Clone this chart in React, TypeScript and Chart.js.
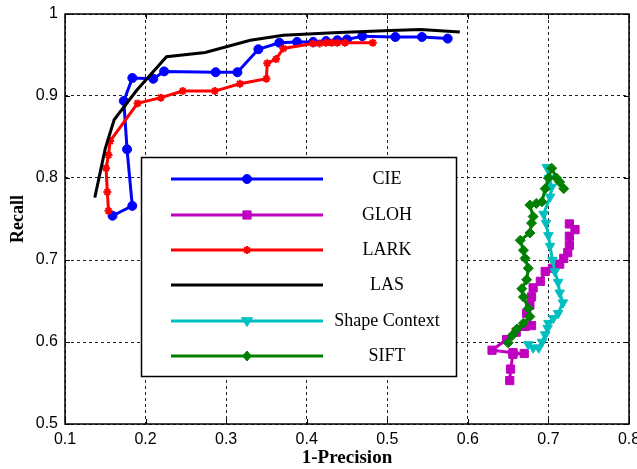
import React, { useEffect, useRef } from 'react';
import { Chart, registerables } from 'chart.js';

Chart.register(...registerables);

// ---------- data ----------
const seriesNames = ['CIE', 'GLOH', 'LARK', 'LAS', 'Shape Context', 'SIFT'];

const cie: [number, number][] = [
  [0.159, 0.754], [0.1835, 0.766], [0.177, 0.835], [0.173, 0.894], [0.1836, 0.922],
  [0.2096, 0.921], [0.223, 0.930], [0.287, 0.929], [0.314, 0.929], [0.340, 0.957],
  [0.366, 0.965], [0.388, 0.966], [0.408, 0.966], [0.424, 0.967], [0.438, 0.968],
  [0.450, 0.969], [0.469, 0.973], [0.510, 0.972], [0.543, 0.972], [0.575, 0.970],
];

const gloh: [number, number][] = [
  [0.652, 0.553], [0.653, 0.567], [0.656, 0.585], [0.670, 0.586], [0.656, 0.587],
  [0.630, 0.590], [0.648, 0.603], [0.660, 0.612], [0.671, 0.619], [0.679, 0.620],
  [0.673, 0.635], [0.677, 0.645], [0.679, 0.655], [0.681, 0.666], [0.690, 0.674],
  [0.696, 0.686], [0.705, 0.690], [0.714, 0.695], [0.719, 0.702], [0.724, 0.709],
  [0.726, 0.718], [0.726, 0.729], [0.733, 0.737], [0.726, 0.744],
];

const lark: [number, number][] = [
  [0.154, 0.760], [0.1525, 0.783], [0.151, 0.812], [0.154, 0.828], [0.156, 0.845],
  [0.190, 0.891], [0.219, 0.898], [0.246, 0.906], [0.286, 0.906], [0.317, 0.915],
  [0.350, 0.921], [0.351, 0.940], [0.362, 0.945], [0.371, 0.958], [0.408, 0.964],
  [0.416, 0.964], [0.424, 0.965], [0.431, 0.965], [0.438, 0.965], [0.4475, 0.965],
  [0.482, 0.965],
];

const las: [number, number][] = [
  [0.137, 0.776], [0.150, 0.836], [0.161, 0.871], [0.189, 0.907], [0.226, 0.948],
  [0.274, 0.953], [0.330, 0.968], [0.371, 0.974], [0.433, 0.977], [0.504, 0.980],
  [0.541, 0.981], [0.590, 0.978],
];

const shapeContext: [number, number][] = [
  [0.675, 0.597], [0.681, 0.593], [0.688, 0.593], [0.692, 0.600], [0.696, 0.609],
  [0.699, 0.617], [0.700, 0.623], [0.706, 0.629], [0.712, 0.635], [0.718, 0.648],
  [0.714, 0.660], [0.712, 0.673], [0.708, 0.686], [0.705, 0.700], [0.702, 0.717],
  [0.700, 0.730], [0.697, 0.745], [0.694, 0.756], [0.702, 0.777], [0.704, 0.789],
  [0.701, 0.800], [0.698, 0.813],
];

const sift: [number, number][] = [
  [0.650, 0.599], [0.655, 0.608], [0.661, 0.616], [0.669, 0.623], [0.677, 0.631],
  [0.675, 0.641], [0.669, 0.655], [0.667, 0.665], [0.673, 0.676], [0.675, 0.690],
  [0.671, 0.702], [0.669, 0.712], [0.665, 0.724], [0.677, 0.733], [0.679, 0.745],
  [0.681, 0.753], [0.677, 0.767], [0.685, 0.769], [0.692, 0.771], [0.696, 0.787],
  [0.700, 0.800], [0.704, 0.812], [0.710, 0.800], [0.714, 0.795], [0.719, 0.787],
];

const xMin = 0.1, xMax = 0.8, xStep = 0.1;
const yMin = 0.5, yMax = 1.0, yStep = 0.1;
const xTitle = '1-Precision';
const yTitle = 'Recall';

// ---------- styles ----------
const colors = ['#0000ff', '#bf00bf', '#ff0000', '#000000', '#00bfbf', '#008000'];
const styles = ['circle', 'rect', 'star', 'line', 'triangle', 'rectRot'];
const radii = [4.5, 5.8, 4, 0, 5.5, 5];
const rotations = [0, 0, 0, 0, 180, 0];
const seriesData = [cie, gloh, lark, las, shapeContext, sift];

const SERIF = '"Liberation Serif", "Times New Roman", serif';
const SANS = '"Liberation Sans", Arial, Helvetica, sans-serif';

function drawMarker(ctx: CanvasRenderingContext2D, i: number, x: number, y: number) {
  const c = colors[i];
  const r = radii[i];
  ctx.save();
  ctx.fillStyle = c;
  ctx.strokeStyle = c;
  ctx.lineWidth = 1;
  ctx.setLineDash([]);
  ctx.beginPath();
  const s = styles[i];
  if (s === 'circle') {
    ctx.arc(x, y, r, 0, Math.PI * 2);
    ctx.fill(); ctx.stroke();
  } else if (s === 'rect') {
    const h = r * Math.SQRT1_2;
    ctx.rect(x - h, y - h, 2 * h, 2 * h);
    ctx.fill(); ctx.stroke();
  } else if (s === 'star') {
    ctx.lineWidth = 2;
    for (let k = 0; k < 4; k++) {
      const a = (k * Math.PI) / 4;
      ctx.moveTo(x - Math.cos(a) * r, y - Math.sin(a) * r);
      ctx.lineTo(x + Math.cos(a) * r, y + Math.sin(a) * r);
    }
    ctx.stroke();
  } else if (s === 'triangle') {
    ctx.moveTo(x - r, y - r * 0.6);
    ctx.lineTo(x + r, y - r * 0.6);
    ctx.lineTo(x, y + r);
    ctx.closePath();
    ctx.fill(); ctx.stroke();
  } else if (s === 'rectRot') {
    ctx.moveTo(x, y - r);
    ctx.lineTo(x + r * 0.85, y);
    ctx.lineTo(x, y + r);
    ctx.lineTo(x - r * 0.85, y);
    ctx.closePath();
    ctx.fill(); ctx.stroke();
  }
  ctx.restore();
}

const overlayPlugin = {
  id: 'overlay',
  afterDatasetsDraw(chart: any) {
    const { ctx, chartArea: a, scales } = chart;
    const xs = scales.x, ys = scales.y;
    ctx.save();

    // legend box
    const bx = 141.5, by = 157.5, bw = 315, bh = 219;
    ctx.fillStyle = '#ffffff';
    ctx.fillRect(bx, by, bw, bh);
    ctx.strokeStyle = '#000';
    ctx.lineWidth = 1.5;
    ctx.strokeRect(bx, by, bw, bh);
    const rowY = [179, 215, 250, 285, 321, 356];
    seriesNames.forEach((name, i) => {
      const y = rowY[i];
      ctx.strokeStyle = colors[i];
      ctx.lineWidth = 3;
      ctx.beginPath();
      ctx.moveTo(171, y);
      ctx.lineTo(323, y);
      ctx.stroke();
      drawMarker(ctx, i, 247, y);
      ctx.fillStyle = '#000';
      ctx.font = `18px ${SERIF}`;
      ctx.textAlign = 'center';
      ctx.textBaseline = 'middle';
      ctx.fillText(name, 387, y);
    });

    // frame
    ctx.strokeStyle = '#000';
    ctx.lineWidth = 1.5;
    ctx.strokeRect(a.left, a.top, a.right - a.left, a.bottom - a.top);

    // inward ticks
    ctx.lineWidth = 1;
    for (let v = xMin; v <= xMax + 1e-9; v += xStep) {
      const px = Math.round(xs.getPixelForValue(v)) + 0.5;
      ctx.beginPath();
      ctx.moveTo(px, a.bottom); ctx.lineTo(px, a.bottom - 5);
      ctx.moveTo(px, a.top); ctx.lineTo(px, a.top + 5);
      ctx.stroke();
    }
    for (let v = yMin; v <= yMax + 1e-9; v += yStep) {
      const py = Math.round(ys.getPixelForValue(v)) + 0.5;
      ctx.beginPath();
      ctx.moveTo(a.left, py); ctx.lineTo(a.left + 5, py);
      ctx.moveTo(a.right, py); ctx.lineTo(a.right - 5, py);
      ctx.stroke();
    }

    // axis titles
    ctx.fillStyle = '#000';
    ctx.textAlign = 'center';
    ctx.textBaseline = 'middle';
    ctx.font = `bold 19px ${SERIF}`;
    ctx.fillText(xTitle, (a.left + a.right) / 2, 458);
    ctx.font = `bold 18px ${SERIF}`;
    ctx.save();
    ctx.translate(18, (a.top + a.bottom) / 2);
    ctx.rotate(-Math.PI / 2);
    ctx.fillText(yTitle, 0, 0);
    ctx.restore();

    ctx.restore();
  },
};

export default function App() {
  const canvasRef = useRef<HTMLCanvasElement | null>(null);

  useEffect(() => {
    if (!canvasRef.current) return;
    const datasets = seriesData.map((d, i) => ({
      label: seriesNames[i],
      data: d.map(([x, y]) => ({ x, y })),
      showLine: true,
      borderColor: colors[i],
      backgroundColor: colors[i],
      borderWidth: 3,
      pointStyle: styles[i] === 'line' ? false : (styles[i] as any),
      pointRadius: radii[i],
      pointRotation: rotations[i],
      pointBorderWidth: styles[i] === 'star' ? 2 : 1,
      pointBackgroundColor: colors[i],
      pointBorderColor: colors[i],
      tension: 0,
      order: seriesNames.length - i,
    }));

    const chart = new Chart(canvasRef.current, {
      type: 'scatter',
      data: { datasets },
      plugins: [overlayPlugin],
      options: {
        animation: false,
        responsive: false,
        devicePixelRatio: 1,
        layout: { padding: { top: 14, right: 8, left: 0, bottom: 0 } },
        plugins: { legend: { display: false }, tooltip: { enabled: false } },
        scales: {
          x: {
            type: 'linear',
            min: xMin,
            max: xMax,
            afterFit: (s: any) => {
              s.height = 45;
              s.paddingLeft = 0;
              s.paddingRight = 0;
            },
            ticks: {
              stepSize: xStep,
              padding: 6,
              color: '#000',
              font: { family: SANS, size: 16 },
              callback: (v: any) => String(+Number(v).toFixed(1)),
            },
            grid: { color: '#222', lineWidth: 1, drawTicks: false },
            border: { display: false, dash: [3, 3] },
          },
          y: {
            type: 'linear',
            min: yMin,
            max: yMax,
            afterFit: (s: any) => {
              s.width = 65;
              s.paddingTop = 0;
              s.paddingBottom = 0;
            },
            ticks: {
              stepSize: yStep,
              padding: 7,
              color: '#000',
              font: { family: SANS, size: 16 },
              callback: (v: any) => String(+Number(v).toFixed(1)),
            },
            grid: { color: '#222', lineWidth: 1, drawTicks: false },
            border: { display: false, dash: [3, 3] },
          },
        },
      } as any,
    });
    return () => chart.destroy();
  }, []);

  return (
    <div style={{ position: 'absolute', left: 0, top: 0, width: 637, height: 469, background: '#fff' }}>
      <canvas ref={canvasRef} width={637} height={469} />
    </div>
  );
}
